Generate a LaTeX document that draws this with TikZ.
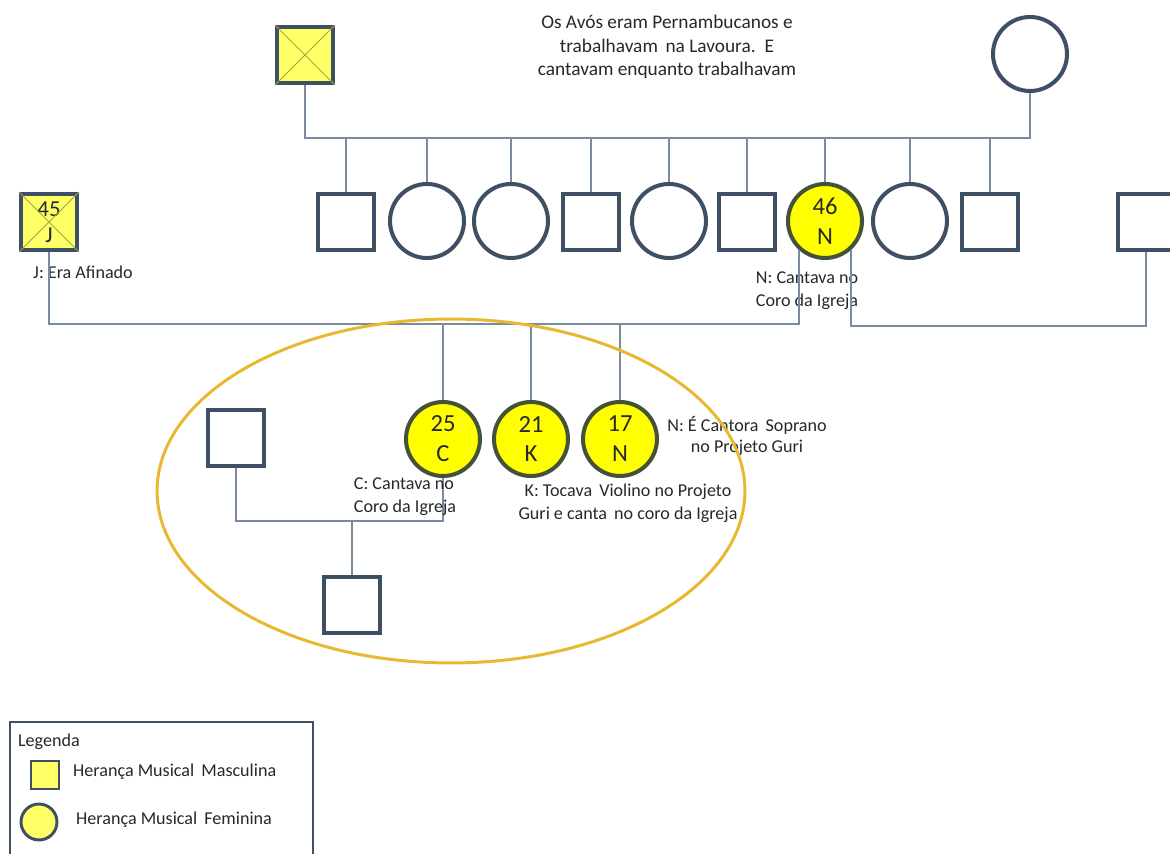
\documentclass[tikz,border=0pt]{standalone}
\usepackage{fontspec}
\setmainfont{Carlito}
\usepackage{tikz}
\usetikzlibrary{positioning}

\definecolor{borda}{RGB}{64,80,100}
\definecolor{bordaam}{RGB}{68,82,58}
\definecolor{linha}{RGB}{122,138,160}
\definecolor{amarelo}{RGB}{255,255,0}
\definecolor{amclaro}{RGB}{255,255,102}
\definecolor{dourado}{RGB}{232,184,48}
\definecolor{cruz}{RGB}{165,165,70}
\definecolor{texto}{RGB}{40,40,40}

\tikzset{
  homem/.style={draw=borda, line width=2.3pt, minimum size=1.12cm, inner sep=0pt, fill=white},
  mulher/.style={circle, draw=borda, line width=2.3pt, minimum size=1.48cm, inner sep=0pt, fill=white},
  musico/.style={fill=amclaro, text=texto, align=center, font=\fontsize{13}{15}\selectfont},
  musica/.style={fill=amarelo, draw=bordaam, text=texto, align=center, font=\fontsize{14}{17}\selectfont},
  liga/.style={draw=linha, line width=0.85pt},
  nota/.style={text=texto, font=\fontsize{10.3}{13}\selectfont, inner sep=1pt},
  xis/.style={draw=cruz, line width=0.5pt}
}

\begin{document}
\begin{tikzpicture}[x=0.02cm, y=-0.02cm]
\useasboundingbox (0,0) rectangle (1170,854);
\clip (0,0) rectangle (1170,854);

%avos
\node[homem, musico] (avo) at (305,55) {};
\node[mulher] (avoa) at (1030,54) {};
\draw[xis] (avo.north west) -- (avo.south east) (avo.north east) -- (avo.south west);

\node[nota, align=center, font=\fontsize{11}{13.4}\selectfont] (txtavos) at (667,47)
  {Os Avós eram Pernambucanos e\\trabalhavam\, na Lavoura.\, E\\cantavam enquanto trabalhavam};

%filhos dos avos
\node[homem]  (f1) at (346,222) {};
\node[mulher] (f2) at (427,221) {};
\node[mulher] (f3) at (511,221) {};
\node[homem]  (f4) at (591,222) {};
\node[mulher] (f5) at (669,221) {};
\node[homem]  (f6) at (747,222) {};
\node[mulher, musica] (mae) at (825,221) {46\\N};
\node[mulher] (f8) at (910,221) {};
\node[homem]  (f9) at (990,222) {};

\coordinate (irmaos) at (305,138);
\draw[liga] (avo.south) -- (irmaos) -| (avoa.south);
\foreach \f in {f1,f2,f3,f4,f5,f6,mae,f8,f9}
  \draw[liga] (\f.north) -- (\f.north |- irmaos);

%pai e outro marido
\node[homem, musico] (pai) at (49,222) {45\\J};
\draw[xis] (pai.north west) -- (pai.south east) (pai.north east) -- (pai.south west);
\node[homem] (marido) at (1146,222) {};

\node[nota] (txtpai) at (83,272) {J: Era Afinado};
\node[nota, align=left] (txtmae) at (807,291) {N: Cantava no\\Coro da Igreja};

\coordinate (casal) at (50,324);
\coordinate (casal2) at (50,326);
\draw[liga] (pai.south) -- (pai.south |- casal) -| (mae.228);
\draw[liga] (marido.south) -- (marido.south |- casal2) -| (mae.312);

%netos
\node[mulher, musica] (c) at (443,439) {25\\C};
\node[mulher, musica] (k) at (531,439) {21\\K};
\node[mulher, musica] (n) at (620,439) {17\\N};
\foreach \f in {c,k,n}
  \draw[liga] (\f.north) -- (\f.north |- casal);

\node[homem] (genro) at (236,438) {};
\node[homem] (bisneto) at (352,605) {};
\coordinate (casal3) at (236,521);
\draw[liga] (c.south) -- (c.south |- casal3) -| (genro.south);
\draw[liga] (bisneto.north) -- (bisneto.north |- casal3);

\node[nota, align=left] (txtc) at (405,497) {C: Cantava no\\Coro da Igreja};
\node[nota, align=center] (txtk) at (628,503) {K: Tocava\, Violino no Projeto\\Guri e canta\, no coro da Igreja};
\node[nota, align=center, font=\fontsize{10.3}{12}\selectfont] (txtn) at (747,436) {N: É Cantora\, Soprano\\no Projeto Guri};

%heranca
\draw[dourado, line width=1.7pt] (451,491) ellipse [x radius=5.88cm, y radius=3.44cm];

%legenda
\draw[borda, line width=1.7pt, fill=white] (10,722) rectangle (313,880);
\node[nota, anchor=west] (leg) at (16,742) {Legenda};
\node[draw=borda, line width=1.7pt, fill=amclaro, minimum size=0.56cm, inner sep=0pt] (legm) at (45,775) {};
\node[nota, anchor=west] (legmtxt) at (71,772) {Herança Musical\, Masculina};
\node[circle, draw=borda, line width=1.7pt, fill=amclaro, minimum size=0.72cm, inner sep=0pt] (legf) at (39,822) {};
\node[nota, anchor=west] (legftxt) at (74,820) {Herança Musical\, Feminina};

\end{tikzpicture}
\end{document}
